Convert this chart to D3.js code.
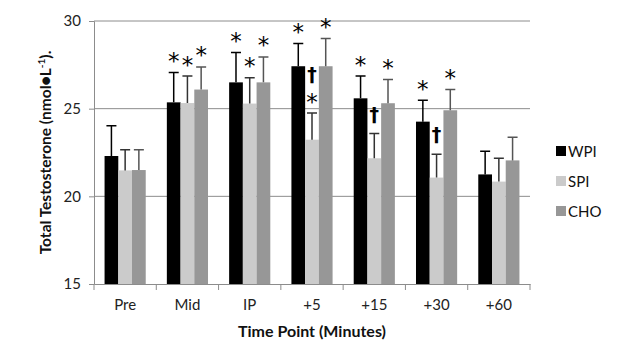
<!DOCTYPE html>
<html>
<head>
<meta charset="utf-8">
<script src="https://d3js.org/d3.v7.min.js"></script>
<style>
  body { margin: 0; background: #fff; }
  text { font-family: Lato, "Open Sans", sans-serif; }
</style>
</head>
<body>
<svg width="635" height="352" class="bar-chart"></svg>
<script>
  // data
  const timePoints = ["Pre", "Mid", "IP", "+5", "+15", "+30", "+60"];
  const groups = ["WPI", "SPI", "CHO"];
  const wpiMeans = [22.3, 25.36, 26.5, 27.42, 25.59, 24.26, 21.25];
  const spiMeans = [21.48, 25.32, 25.29, 23.23, 22.17, 21.07, 20.84];
  const choMeans = [21.5, 26.09, 26.5, 27.42, 25.31, 24.91, 22.05];
  const wpiErr = [1.73, 1.7, 1.7, 1.29, 1.27, 1.22, 1.32];
  const spiErr = [1.18, 1.54, 1.48, 1.52, 1.41, 1.33, 1.33];
  const choErr = [1.16, 1.29, 1.45, 1.58, 1.35, 1.18, 1.32];
  // significance marks ("*" vs Pre, "†" between groups)
  const wpiMarks = ["", "*", "*", "*", "*", "*", ""];
  const spiMarks = ["", "*", "*", "†*", "†", "†", ""];
  const choMarks = ["", "*", "*", "*", "*", "*", ""];
  const yTicks = [15, 20, 25, 30];

  const colors = {WPI: "#000000", SPI: "#cbcbcb", CHO: "#979797"};
  const errColors = {WPI: "#000000", SPI: "#333333", CHO: "#555555"};

  const rows = timePoints.map((t, i) => ({
    time: t,
    vals: [
      {g: "WPI", mean: wpiMeans[i], err: wpiErr[i], mark: wpiMarks[i]},
      {g: "SPI", mean: spiMeans[i], err: spiErr[i], mark: spiMarks[i]},
      {g: "CHO", mean: choMeans[i], err: choErr[i], mark: choMarks[i]}
    ]
  }));

  const svg = d3.select(".bar-chart");
  const plotLeft = 94, plotRight = 530, plotTop = 21, plotBottom = 284;

  const x0 = d3.scaleBand().domain(timePoints).range([plotLeft, plotRight]).padding(0);
  const x1 = d3.scaleBand().domain(groups).range([0, x0.bandwidth()])
    .paddingInner(0).paddingOuter(0.77);
  const y = d3.scaleLinear().domain([15, 30]).range([plotBottom, plotTop]);

  // gridlines
  svg.append("g")
    .selectAll("line")
    .data(yTicks.filter(d => d > 15))
    .enter().append("line")
    .attr("x1", plotLeft).attr("x2", plotRight)
    .attr("y1", d => y(d)).attr("y2", d => y(d))
    .attr("stroke", "#8c8c8c").attr("stroke-width", 1);

  // bars
  const grp = svg.append("g").selectAll("g")
    .data(rows)
    .enter().append("g")
    .attr("transform", d => "translate(" + x0(d.time) + ",0)");

  grp.selectAll("rect")
    .data(d => d.vals)
    .enter().append("rect")
    .attr("x", d => x1(d.g))
    .attr("y", d => y(d.mean))
    .attr("width", x1.bandwidth())
    .attr("height", d => y(15) - y(d.mean))
    .attr("fill", d => colors[d.g]);

  // error bars (upper only)
  grp.selectAll(".err")
    .data(d => d.vals)
    .enter().append("path")
    .attr("class", "err")
    .attr("d", d => {
      const cx = x1(d.g) + x1.bandwidth() / 2;
      const yt = y(d.mean + d.err);
      return "M" + cx + "," + y(d.mean) + "V" + yt + "M" + (cx - 5) + "," + yt + "H" + (cx + 5);
    })
    .attr("stroke", d => errColors[d.g])
    .attr("stroke-width", 1.5)
    .attr("fill", "none");

  // significance marks, stacked upward from the error cap
  grp.selectAll(".mark")
    .data(d => d.vals.filter(v => v.mark))
    .enter().append("g")
    .attr("class", "mark")
    .style("opacity", 0.99)
    .each(function(d) {
      const cx = x1(d.g) + x1.bandwidth() / 2;
      let cy = y(d.mean + d.err) - 16;   // centre of the first symbol
      d.mark.split("").reverse().forEach(c => {
        if (c === "*") {
          d3.select(this).append("text")
            .attr("x", cx).attr("y", cy + 12.5)
            .attr("text-anchor", "middle")
            .style("font-family", "'DejaVu Sans', sans-serif")
            .style("font-size", "23px")
            .attr("fill", "#000")
            .text("*");
        } else {
          d3.select(this).append("text")
            .attr("x", cx).attr("y", cy + 3)
            .attr("text-anchor", "middle")
            .style("font-family", "'DejaVu Sans', sans-serif")
            .style("font-size", "19px")
            .style("font-weight", "bold")
            .attr("fill", "#000")
            .text("†");
        }
        cy -= 19;
      });
    });

  // axes
  const yAxis = svg.append("g")
    .attr("transform", "translate(" + plotLeft + ",0)")
    .call(d3.axisLeft(y).tickValues(yTicks).tickSize(5).tickPadding(8));
  yAxis.selectAll("line, path").attr("stroke", "#8c8c8c");
  yAxis.selectAll("text").style("font-size", "15px").attr("fill", "#222");

  const xAxis = svg.append("g")
    .attr("transform", "translate(0," + plotBottom + ")")
    .call(d3.axisBottom(x0).tickSize(0).tickPadding(15));
  xAxis.select("path").attr("stroke", "#8c8c8c");
  xAxis.selectAll("text").style("font-size", "15px").attr("fill", "#222");
  // tick marks between categories
  svg.append("g").selectAll("line")
    .data(timePoints.concat(["end"]))
    .enter().append("line")
    .attr("x1", (d, i) => plotLeft + i * x0.step())
    .attr("x2", (d, i) => plotLeft + i * x0.step())
    .attr("y1", plotBottom).attr("y2", plotBottom + 6)
    .attr("stroke", "#8c8c8c");

  // axis titles
  svg.append("text")
    .attr("x", (plotLeft + plotRight) / 2).attr("y", 337)
    .attr("text-anchor", "middle")
    .style("font-size", "16px").style("font-weight", "bold")
    .attr("fill", "#111")
    .text("Time Point (Minutes)");

  const ytitle = svg.append("text")
    .attr("transform", "translate(51," + (plotTop + plotBottom) / 2 + ") rotate(-90)")
    .attr("text-anchor", "middle")
    .style("font-size", "15.5px").style("font-weight", "bold")
    .attr("fill", "#111");
  ytitle.append("tspan").text("Total Testosterone (nmol●L");
  ytitle.append("tspan").attr("dy", -6).style("font-size", "10px").text("-1");
  ytitle.append("tspan").attr("dy", 6).text(").");

  // legend
  const leg = svg.append("g").selectAll("g")
    .data(groups)
    .enter().append("g")
    .attr("transform", (d, i) => "translate(556," + (151 + i * 30) + ")");
  leg.append("rect")
    .attr("x", 0).attr("y", -5).attr("width", 10).attr("height", 10)
    .attr("fill", d => colors[d]);
  leg.append("text")
    .attr("x", 12).attr("y", 5.5)
    .style("font-size", "15px").attr("fill", "#111")
    .text(d => d);
</script>
</body>
</html>
